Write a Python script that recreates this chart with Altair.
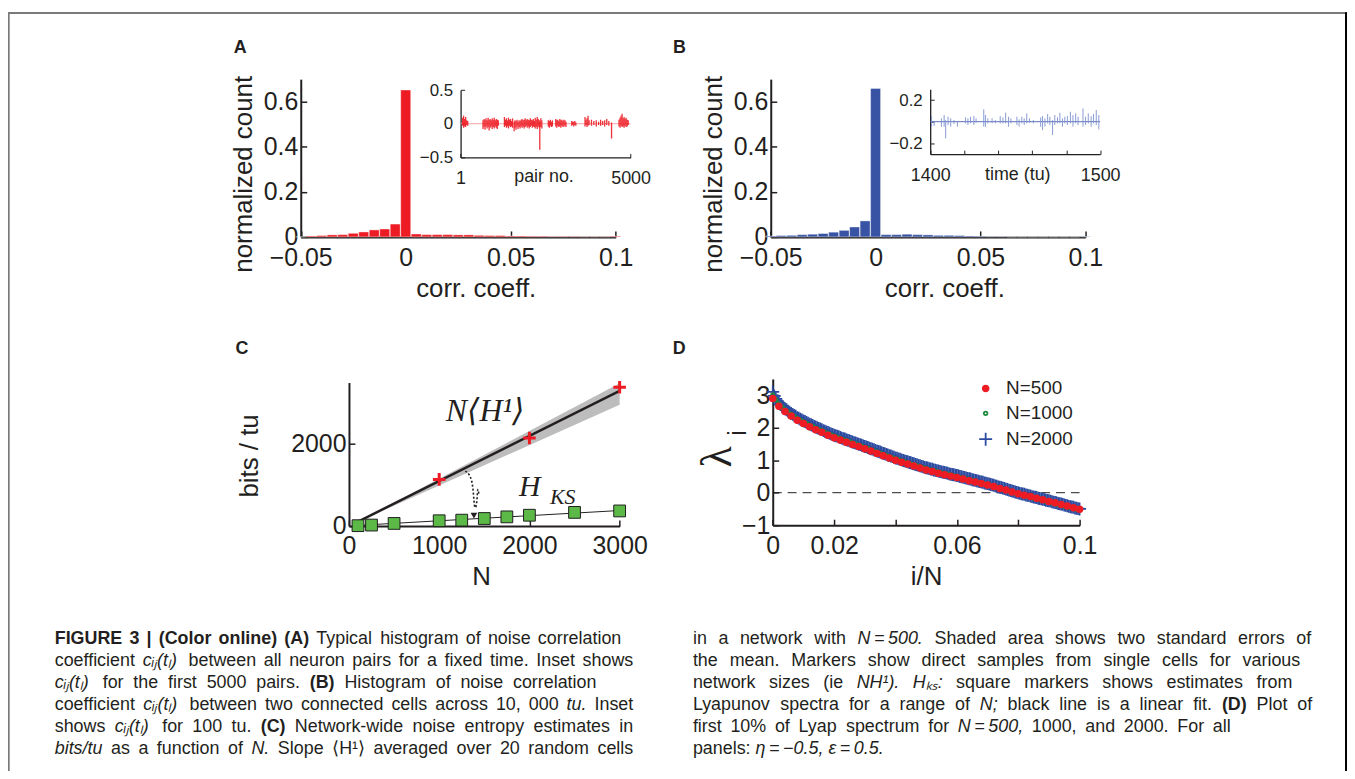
import altair as alt
import pandas as pd

# ---------------- data ----------------
bin_centers = [-0.05, -0.045, -0.04, -0.035, -0.03, -0.025, -0.02, -0.015, -0.01, -0.005,
               0.0, 0.005, 0.01, 0.015, 0.02, 0.025, 0.03, 0.035, 0.04, 0.045,
               0.05, 0.055, 0.06, 0.065, 0.07, 0.075, 0.08, 0.085, 0.09, 0.095, 0.1]
count_A = [0.0, 0.004, 0.006, 0.009, 0.010, 0.016, 0.022, 0.031, 0.035, 0.057,
           0.652, 0.013, 0.010, 0.010, 0.010, 0.009, 0.009, 0.007, 0.006, 0.006,
           0.004, 0.004, 0.003, 0.003, 0.002, 0.002, 0.002, 0.001, 0.001, 0.001, 0.003]
count_B = [0.004, 0.006, 0.007, 0.010, 0.012, 0.015, 0.021, 0.029, 0.044, 0.071,
           0.659, 0.010, 0.010, 0.012, 0.010, 0.009, 0.007, 0.007, 0.006, 0.004,
           0.003, 0.002, 0.002, 0.0, 0.0, 0.0, 0.0, 0.0, 0.0, 0.0, 0.002]

insetA_pair = [60, 90, 120, 150, 180, 210,
               660, 690, 720, 750, 780, 810, 840, 870, 900, 930, 960, 990, 1020, 1050, 1080, 1110,
               1290, 1320, 1350, 1380, 1410, 1440, 1470, 1500, 1530,
               1575, 1600, 1630, 1660, 1690, 1720, 1750, 1780,
               1810, 1840, 1870, 1900, 1930, 1960, 1990, 2020, 2050, 2080, 2110, 2140, 2170,
               2195, 2225, 2255, 2285, 2315, 2330, 2360, 2390,
               2580, 2610, 2640, 2670, 2700,
               2800, 2830, 2860, 2890, 2920, 2950, 2980, 3010, 3040, 3070, 3100,
               3270, 3300, 3330, 3360, 3390,
               3660, 3690, 3720, 3750, 3780,
               3850, 3920, 3990, 4060, 4120, 4180, 4240, 4300, 4360,
               4440,
               4660, 4690, 4720, 4750, 4780, 4810, 4840, 4870, 4900, 4930]
insetA_lo = [-0.03, -0.06, -0.04, -0.05, -0.02, -0.03,
             -0.08, -0.05, -0.09, -0.04, -0.07, -0.05, -0.10, -0.06, -0.04, -0.08, -0.05, -0.07, -0.04, -0.06, -0.08, -0.03,
             -0.05, -0.03, -0.06, -0.04, -0.07, -0.03, -0.05, -0.04, -0.06,
             -0.11, -0.06, -0.09, -0.04, -0.08, -0.05, -0.07, -0.04,
             -0.06, -0.04, -0.07, -0.05, -0.03, -0.06, -0.04, -0.07, -0.05, -0.03, -0.06, -0.04, -0.05,
             -0.07, -0.05, -0.08, -0.04, -0.06, -0.385, -0.05, -0.07,
             -0.04, -0.06, -0.03, -0.05, -0.04,
             -0.04, -0.06, -0.03, -0.05, -0.04, -0.06, -0.03, -0.05, -0.04, -0.03, -0.05,
             -0.03, -0.02, -0.04, -0.02, -0.03,
             -0.04, -0.02, -0.05, -0.03, -0.02,
             -0.03, -0.02, -0.04, -0.02, -0.03, -0.02, -0.04, -0.02, -0.03,
             -0.22,
             -0.04, -0.06, -0.03, -0.05, -0.04, -0.06, -0.03, -0.05, -0.04, -0.02]
insetA_hi = [0.09, 0.12, 0.07, 0.10, 0.05, 0.04,
             0.05, 0.07, 0.06, 0.08, 0.05, 0.09, 0.06, 0.07, 0.05, 0.08, 0.06, 0.09, 0.05, 0.07, 0.06, 0.05,
             0.10, 0.06, 0.08, 0.05, 0.09, 0.06, 0.07, 0.04, 0.08,
             0.03, 0.05, 0.04, 0.06, 0.03, 0.05, 0.04, 0.06,
             0.07, 0.05, 0.06, 0.08, 0.05, 0.07, 0.06, 0.05, 0.08, 0.06, 0.05, 0.07, 0.04,
             0.09, 0.06, 0.10, 0.07, 0.05, 0.03, 0.08, 0.05,
             0.05, 0.04, 0.06, 0.03, 0.05,
             0.07, 0.05, 0.06, 0.04, 0.07, 0.05, 0.06, 0.04, 0.06, 0.05, 0.03,
             0.04, 0.03, 0.03, 0.04, 0.02,
             0.10, 0.06, 0.08, 0.12, 0.05,
             0.06, 0.04, 0.05, 0.03, 0.06, 0.04, 0.05, 0.07, 0.04,
             0.02,
             0.06, 0.09, 0.12, 0.15, 0.08, 0.10, 0.07, 0.09, 0.06, 0.05]

insetB_time = [1400.8, 1402.3, 1406.6, 1408.2, 1409.1, 1410.5, 1412.1, 1414.0, 1416.0, 1420.8,
               1422.2, 1423.7, 1425.7, 1427.0, 1431.5, 1432.5, 1433.9, 1436.4, 1438.3, 1441.2,
               1442.8, 1444.4, 1446.1, 1447.5, 1451.0, 1452.3, 1453.9, 1455.3, 1456.8, 1458.4,
               1460.7, 1465.0, 1466.1, 1467.5, 1469.1, 1470.4, 1472.0, 1473.3, 1474.9, 1476.3,
               1477.8, 1479.2, 1480.7, 1482.5, 1484.0, 1485.6, 1487.0, 1489.9, 1491.4, 1493.0,
               1494.7, 1496.1, 1497.7, 1499.2]
insetB_hi = [0.052, 0.005, 0.031, 0.062, 0.015, 0.046, 0.031, 0.015, 0.005, 0.040,
             0.031, 0.046, 0.052, 0.031, 0.114, 0.062, 0.031, 0.031, 0.015, 0.052,
             0.040, 0.083, 0.046, 0.031, 0.046, 0.022, 0.046, 0.031, 0.077, 0.031,
             0.015, 0.040, 0.052, 0.031, 0.071, 0.046, 0.015, 0.062, 0.040, 0.083,
             0.031, 0.046, 0.052, 0.092, 0.062, 0.077, 0.046, 0.123, 0.046, 0.077,
             0.052, 0.071, 0.108, 0.062]
insetB_lo = [-0.046, -0.040, -0.046, -0.046, -0.154, -0.031, -0.046, -0.022, -0.046, -0.015,
             -0.031, -0.015, -0.031, -0.010, -0.046, -0.046, -0.015, -0.015, -0.015, -0.015,
             -0.015, -0.015, -0.046, -0.015, -0.031, -0.046, -0.015, -0.031, -0.015, -0.010,
             -0.015, -0.046, -0.077, -0.046, -0.015, -0.031, -0.123, -0.031, -0.015, -0.015,
             -0.046, -0.015, -0.031, -0.015, -0.046, -0.015, -0.031, -0.046, -0.031, -0.015,
             -0.046, -0.015, -0.031, -0.071]

C_marker_N = [1000, 2000, 3000]
C_marker_NH1 = [1135, 2148, 3387]
C_line_N = [80, 3000]
C_line_NH1 = [82, 3296]
C_band_N = [80, 3000]
C_band_lo = [80, 2960]
C_band_hi = [84, 3480]
C_ks_N = [100, 250, 500, 1000, 1250, 1500, 1750, 2000, 2500, 3000]
C_ks = [5, 20, 60, 125, 140, 180, 220, 260, 330, 365]
C_ksfit_N = [100, 3000]
C_ksfit = [12, 375]
C_arrow_N = [1290, 1375, 1425, 1440, 1420, 1388]
C_arrow_v = [1340, 1185, 990, 770, 530, 320]
C_arrowhead_N = [1385]
C_arrowhead_v = [250]

D_lam500 = [2.90, 2.66, 2.50, 2.36, 2.23, 2.13, 2.03, 1.94, 1.86, 1.77,
            1.69, 1.62, 1.55, 1.48, 1.42, 1.35, 1.28, 1.21, 1.14, 1.07,
            1.00, 0.94, 0.88, 0.82, 0.76, 0.70, 0.65, 0.60, 0.55, 0.51,
            0.47, 0.42, 0.37, 0.33, 0.28, 0.24, 0.19, 0.13, 0.08, 0.02,
            -0.03, -0.08, -0.12, -0.17, -0.22, -0.27, -0.31, -0.36, -0.41, -0.46,
            -0.51]
D_lam1000 = [3.00, 2.86, 2.73, 2.63, 2.55, 2.48, 2.41, 2.35, 2.28, 2.23,
             2.18, 2.13, 2.08, 2.04, 1.99, 1.95, 1.91, 1.86, 1.82, 1.78,
             1.74, 1.71, 1.67, 1.63, 1.60, 1.57, 1.53, 1.50, 1.46, 1.43,
             1.39, 1.36, 1.32, 1.29, 1.25, 1.22, 1.18, 1.15, 1.11, 1.08,
             1.04, 1.01, 0.98, 0.95, 0.92, 0.89, 0.86, 0.83, 0.80, 0.77,
             0.74, 0.71, 0.69, 0.66, 0.64, 0.61, 0.59, 0.57, 0.54, 0.52,
             0.50, 0.47, 0.45, 0.42, 0.40, 0.37, 0.35, 0.32, 0.30, 0.27,
             0.25, 0.22, 0.20, 0.17, 0.14, 0.11, 0.08, 0.05, 0.02, -0.01,
             -0.03, -0.06, -0.08, -0.11, -0.13, -0.16, -0.18, -0.21, -0.23, -0.26,
             -0.28, -0.31, -0.33, -0.36, -0.38, -0.41, -0.43, -0.46, -0.48, -0.51,
             -0.53]
D_lam2000 = [3.10, 2.98, 2.89, 2.82, 2.76, 2.71, 2.66, 2.62, 2.58, 2.55,
             2.51, 2.48, 2.44, 2.41, 2.38, 2.35, 2.31, 2.29, 2.26, 2.24,
             2.21, 2.19, 2.16, 2.14, 2.11, 2.09, 2.07, 2.04, 2.02, 2.00,
             1.98, 1.96, 1.94, 1.91, 1.89, 1.87, 1.85, 1.83, 1.81, 1.79,
             1.77, 1.75, 1.74, 1.72, 1.70, 1.68, 1.66, 1.65, 1.63, 1.61,
             1.60, 1.58, 1.56, 1.54, 1.53, 1.51, 1.49, 1.48, 1.46, 1.44,
             1.42, 1.41, 1.39, 1.37, 1.35, 1.34, 1.32, 1.30, 1.28, 1.27,
             1.25, 1.23, 1.21, 1.20, 1.18, 1.16, 1.14, 1.13, 1.11, 1.09,
             1.07, 1.06, 1.04, 1.03, 1.01, 0.99, 0.98, 0.96, 0.95, 0.93,
             0.92, 0.90, 0.89, 0.87, 0.86, 0.84, 0.83, 0.81, 0.80, 0.78,
             0.77, 0.76, 0.74, 0.73, 0.72, 0.70, 0.69, 0.68, 0.67, 0.65,
             0.64, 0.63, 0.62, 0.61, 0.60, 0.58, 0.57, 0.56, 0.55, 0.54,
             0.53, 0.52, 0.50, 0.49, 0.48, 0.47, 0.45, 0.44, 0.43, 0.42,
             0.40, 0.39, 0.38, 0.37, 0.35, 0.34, 0.33, 0.32, 0.30, 0.29,
             0.28, 0.27, 0.25, 0.24, 0.23, 0.21, 0.20, 0.18, 0.17, 0.16,
             0.14, 0.13, 0.11, 0.10, 0.08, 0.07, 0.05, 0.04, 0.02, 0.01,
             0.00, -0.02, -0.03, -0.04, -0.05, -0.07, -0.08, -0.09, -0.10, -0.12,
             -0.13, -0.14, -0.15, -0.17, -0.18, -0.19, -0.20, -0.21, -0.23, -0.24,
             -0.25, -0.26, -0.28, -0.29, -0.30, -0.31, -0.33, -0.34, -0.35, -0.36,
             -0.38, -0.39, -0.40, -0.42, -0.43, -0.44, -0.45, -0.47, -0.48, -0.49,
             -0.50]
D_series = ["N=500", "N=1000", "N=2000"]

# caption text: "**" = bold word, "_" = italic word
caption_left = [
    "**FIGURE **3 **| **(Color **online) **(A) Typical histogram of noise correlation",
    "coefficient _cᵢⱼ(tₗ) between all neuron pairs for a fixed time. Inset shows",
    "_cᵢⱼ(tₗ) for the first 5000 pairs. **(B) Histogram of noise correlation",
    "coefficient _cᵢⱼ(tₗ) between two connected cells across 10, 000 _tu. Inset",
    "shows _cᵢⱼ(tₗ) for 100 tu. **(C) Network-wide noise entropy estimates in",
    "_bits/tu as a function of _N. Slope ⟨H¹⟩ averaged over 20 random cells",
]
caption_right = [
    "in a network with _N\u2009=\u2009500. Shaded area shows two standard errors of",
    "the mean. Markers show direct samples from single cells for various",
    "network sizes (ie _NH¹). _Hₖₛ: square markers shows estimates from",
    "Lyapunov spectra for a range of _N; black line is a linear fit. **(D) Plot of",
    "first 10% of Lyap spectrum for _N\u2009=\u2009500, 1000, and 2000. For all",
    "panels: _η\u2009=\u2009−0.5, _ε\u2009=\u20090.5.",
]

# ---------------- layout / style ----------------
W, H = 1347, 763
OX, OY = 8, 8
INK = "#231f20"
SANS = "Liberation Sans"
SERIF = "Liberation Serif, DejaVu Serif, serif"
RED = "#ed1c24"
BLUE = "#3953a4"
CAP_SIZE = 18
cap_left_x, cap_right_x = 55, 697
cap_left_end = [625, 637, 600, 637, 637, 637]
cap_right_end = [1319, 1308, 1300, 1320, 1238, None]
cap_y0, cap_dy = 641, 22


def xs(d0, d1, p0, p1):
    return alt.Scale(domain=[d0, d1], range=[p0 - OX, p1 - OX], nice=False, zero=False)


def ys(d0, d1, p0, p1):
    return alt.Scale(domain=[d0, d1], range=[p0 - OY, p1 - OY], nice=False, zero=False)


XA = xs(-0.05, 0.1, 302.5, 619.3); YA = ys(0, 0.7, 236, 77.3)
XB = xs(-0.05, 0.1, 775.3, 1091.7); YB = ys(0, 0.7, 236, 77.3)
XIA = xs(1, 5000, 463.3, 634.3); YIA = ys(-0.5, 0.5, 156, 88.3)
XIB = xs(1400, 1500, 935.7, 1106.7); YIB = ys(-0.3, 0.3, 152.7, 87.5)
XC = xs(0, 3000, 351, 623.3); YC = ys(0, 3500, 526.7, 382.5)
XD = xs(0, 0.1, 777.3, 1086); YD = ys(-1, 3.5, 526, 378.9)
PX = xs(0, 1355, 0, 1355); PY = ys(0, 779, 0, 779)


def axis_b(Y, values, size=25, pad=8, title=None, tx=0, ty=0, tsize=26, dw=2, **kw):
    d = dict(orient="bottom", offset=(Y - OY) - H, values=values, format="~r",
             labelFont=SANS, labelFontSize=size, labelColor=INK, labelPadding=pad,
             labelFlush=False, labelOverlap=False, grid=False, ticks=False, tickSize=0,
             domainColor=INK, domainWidth=dw)
    if title:
        d.update(title=title, titleX=tx - OX, titleY=ty - Y, titleFont=SANS, titleFontSize=tsize,
                 titleFontWeight="normal", titleColor=INK, titleAlign="center",
                 titleBaseline="middle", titleAngle=0)
    else:
        d["title"] = None
    d.update(kw)
    return alt.Axis(**d)


def axis_l(X, values, size=25, pad=3, title=None, tx=0, ty=0, tsize=26, dw=2, tfont=SANS, **kw):
    d = dict(orient="left", offset=-(X - OX), values=values, format="~r",
             labelFont=SANS, labelFontSize=size, labelColor=INK, labelPadding=pad,
             labelFlush=False, labelOverlap=False, grid=False, ticks=False, tickSize=0,
             domainColor=INK, domainWidth=dw)
    if title:
        d.update(title=title, titleX=tx - X, titleY=ty - OY, titleFont=tfont, titleFontSize=tsize,
                 titleFontWeight="normal", titleColor=INK, titleAlign="center",
                 titleBaseline="middle", titleAngle=270)
    else:
        d["title"] = None
    d.update(kw)
    return alt.Axis(**d)


def ticks_top(Y, values, size=6, w=1.5):
    return alt.Axis(orient="top", offset=-(Y - OY), values=values, labels=False, domain=False,
                    ticks=True, tickSize=size, tickWidth=w, tickColor=INK, grid=False, title=None)


def ticks_right(X, values, size=6, w=1.5):
    return alt.Axis(orient="right", offset=(X - OX) - W, values=values, labels=False, domain=False,
                    ticks=True, tickSize=size, tickWidth=w, tickColor=INK, grid=False, title=None)


layers = []

# ---------------- Panel A and B histograms ----------------
for (counts, color, X, Y, x0, tx) in [(count_A, RED, XA, YA, 302.5, 478.5),
                                      (count_B, BLUE, XB, YB, 775.3, 950)]:
    df = pd.DataFrame({"c": bin_centers, "v": counts})
    bars = alt.Chart(df).transform_calculate(
        c0="datum.c - 0.00238", c1="datum.c + 0.00238", z="0"
    ).mark_bar(color=color, stroke="white", strokeWidth=0.4).encode(
        x=alt.X("c0:Q", scale=X, axis=axis_b(236, [-0.05, 0, 0.05, 0.1], pad=9,
                                             title="corr. coeff.", tx=tx, ty=287.7)),
        x2="c1:Q",
        y=alt.Y("v:Q", scale=Y, axis=axis_l(x0, [0, 0.2, 0.4, 0.6], title="normalized count",
                                               tx=x0 - 57.5, ty=172.5,
                                               labelExpr="datum.value === 0 ? '0\u00a0' : datum.label")),
        y2="z:Q",
    )
    tk = alt.Chart(df).mark_point(opacity=0).encode(
        x=alt.X("c:Q", scale=X, axis=ticks_top(236, [-0.05, 0, 0.05, 0.1])),
        y=alt.Y("v:Q", scale=Y, axis=ticks_right(x0, [0, 0.2, 0.4, 0.6])),
    )
    layers += [bars, tk]

# ---------------- Inset A ----------------
dfIA = pd.DataFrame({"p": insetA_pair, "lo": insetA_lo, "hi": insetA_hi})
zeroIA = alt.Chart(pd.DataFrame({"a": [1], "b": [5000], "z": [0]})).mark_rule(
    color="#f5a0a0", strokeWidth=1).encode(
    x=alt.X("a:Q", scale=XIA, axis=None), x2="b:Q", y=alt.Y("z:Q", scale=YIA, axis=None))
spikesIA = alt.Chart(dfIA).mark_rule(color=RED, strokeWidth=1.3, opacity=0.9).encode(
    x=alt.X("p:Q", scale=XIA, axis=axis_b(156, [1, 5000], size=18, pad=12, dw=1.3,
                                          title="pair no.", tx=546.7, ty=175, tsize=18)),
    y=alt.Y("lo:Q", scale=YIA, axis=axis_l(463.3, [-0.5, 0, 0.5], size=17, pad=8, dw=1.3)),
    y2="hi:Q",
)
tkIA = alt.Chart(dfIA).mark_point(opacity=0).encode(
    x=alt.X("p:Q", scale=XIA, axis=ticks_top(156, [1, 5000], size=4, w=1)),
    y=alt.Y("lo:Q", scale=YIA, axis=ticks_right(463.3, [-0.5, 0, 0.5], size=4, w=1)),
)
layers += [zeroIA, spikesIA, tkIA]

# ---------------- Inset B ----------------
dfIB = pd.DataFrame({"t": insetB_time, "lo": insetB_lo, "hi": insetB_hi})
zeroIB = alt.Chart(pd.DataFrame({"a": [1400], "b": [1500], "z": [0]})).mark_rule(
    color="#5a6fb8", strokeWidth=1).encode(
    x=alt.X("a:Q", scale=XIB, axis=None), x2="b:Q", y=alt.Y("z:Q", scale=YIB, axis=None))
spikesIB = alt.Chart(dfIB).mark_rule(color="#7d8fd0", strokeWidth=0.9).encode(
    x=alt.X("t:Q", scale=XIB, axis=axis_b(152.7, [1400, 1500], size=18, pad=13, dw=1.3,
                                          title="time (tu)", tx=1023.3, ty=173.3, tsize=18)),
    y=alt.Y("lo:Q", scale=YIB, axis=axis_l(935.7, [-0.2, 0.2], size=17, pad=8, dw=1.3)),
    y2="hi:Q",
)
tkIB = alt.Chart(dfIB).mark_point(opacity=0).encode(
    x=alt.X("t:Q", scale=XIB, axis=ticks_top(152.7, [1400, 1420, 1440, 1460, 1480, 1500], size=4, w=1)),
    y=alt.Y("lo:Q", scale=YIB, axis=ticks_right(935.7, [-0.2, 0, 0.2], size=4, w=1)),
)
layers += [zeroIB, spikesIB, tkIB]

# ---------------- Panel C ----------------
band = alt.Chart(pd.DataFrame({"n": C_band_N, "lo": C_band_lo, "hi": C_band_hi})).mark_area(
    color="#bdbdbd").encode(
    x=alt.X("n:Q", scale=XC, axis=None), y=alt.Y("lo:Q", scale=YC, axis=None), y2="hi:Q")
cline = alt.Chart(pd.DataFrame({"n": C_line_N, "v": C_line_NH1})).mark_line(
    color=INK, strokeWidth=2.5).encode(
    x=alt.X("n:Q", scale=XC, axis=axis_b(526.7, [0, 1000, 2000, 3000], title="N", tx=484, ty=578)),
    y=alt.Y("v:Q", scale=YC, axis=axis_l(351, [0, 2000], title="bits / tu", tx=251, ty=455.8)),
)
ctk = alt.Chart(pd.DataFrame({"n": C_line_N, "v": C_line_NH1})).mark_point(opacity=0).encode(
    x=alt.X("n:Q", scale=XC, axis=ticks_top(526.7, [0, 1000, 2000, 3000])),
    y=alt.Y("v:Q", scale=YC, axis=ticks_right(351, [0, 2000])),
)
PLUS = "M-1,0H1M0,-1V1"
cplus = alt.Chart(pd.DataFrame({"n": C_marker_N, "v": C_marker_NH1})).mark_point(
    shape=PLUS, size=160, color=RED, strokeWidth=3, filled=False, opacity=1).encode(
    x=alt.X("n:Q", scale=XC, axis=None), y=alt.Y("v:Q", scale=YC, axis=None))
ksfit = alt.Chart(pd.DataFrame({"n": C_ksfit_N, "v": C_ksfit})).mark_line(
    color=INK, strokeWidth=1).encode(
    x=alt.X("n:Q", scale=XC, axis=None), y=alt.Y("v:Q", scale=YC, axis=None))
ks = alt.Chart(pd.DataFrame({"n": C_ks_N, "v": C_ks})).mark_point(
    shape="square", size=140, filled=True, fill="#5cb947", stroke="#1e1e1e", strokeWidth=1, opacity=1).encode(
    x=alt.X("n:Q", scale=XC, axis=None), y=alt.Y("v:Q", scale=YC, axis=None))
arrow = alt.Chart(pd.DataFrame({"n": C_arrow_N, "v": C_arrow_v})).mark_line(
    color=INK, strokeWidth=1.6, strokeDash=[2, 2], interpolate="basis").encode(
    x=alt.X("n:Q", scale=XC, axis=None), y=alt.Y("v:Q", scale=YC, axis=None))
ahead = alt.Chart(pd.DataFrame({"n": C_arrowhead_N, "v": C_arrowhead_v})).mark_point(
    shape="triangle-down", size=45, filled=True, color=INK, opacity=1).encode(
    x=alt.X("n:Q", scale=XC, axis=None), y=alt.Y("v:Q", scale=YC, axis=None))
ctext = alt.Chart(pd.DataFrame({"n": [1509], "v": [2810], "t": ["N⟨H¹⟩"]})).mark_text(
    font=SERIF, fontStyle="italic", fontSize=32, color=INK).encode(
    x=alt.X("n:Q", scale=XC, axis=None), y=alt.Y("v:Q", scale=YC, axis=None), text="t:N")
htext = alt.Chart(pd.DataFrame({"n": [2005], "v": [940], "t": ["H"]})).mark_text(
    font=SERIF, fontStyle="italic", fontSize=30, color=INK).encode(
    x=alt.X("n:Q", scale=XC, axis=None), y=alt.Y("v:Q", scale=YC, axis=None), text="t:N")
kstext = alt.Chart(pd.DataFrame({"n": [2369], "v": [709], "t": ["KS"]})).mark_text(
    font=SERIF, fontStyle="italic", fontSize=22, color=INK).encode(
    x=alt.X("n:Q", scale=XC, axis=None), y=alt.Y("v:Q", scale=YC, axis=None), text="t:N")
layers += [band, cline, ctk, cplus, ksfit, ks, arrow, ahead, ctext, htext, kstext]

# ---------------- Panel D ----------------
rows = []
for lab, vals, n in [("N=2000", D_lam2000, 2000), ("N=1000", D_lam1000, 1000), ("N=500", D_lam500, 500)]:
    for i, v in enumerate(vals):
        rows.append({"x": i / n, "lam": v, "s": lab})
dfD = pd.DataFrame(rows)
zeroD = alt.Chart(pd.DataFrame({"a": [0], "b": [0.1], "z": [0]})).mark_rule(
    color=INK, strokeWidth=1, strokeDash=[9, 6]).encode(
    x=alt.X("a:Q", scale=XD, axis=None), x2="b:Q", y=alt.Y("z:Q", scale=YD, axis=None))
leg = alt.Legend(orient="none", legendX=982 - OX, legendY=379 - OY, title=None,
                 labelFont=SANS, labelFontSize=19, labelColor=INK, labelOffset=11,
                 rowPadding=5, symbolStrokeWidth=1.8, padding=0)
dpts = alt.Chart(dfD).mark_point(opacity=1, strokeWidth=1.7).encode(
    x=alt.X("x:Q", scale=XD, axis=axis_b(526, [0, 0.02, 0.06, 0.1], title="i/N", tx=931.6, ty=578)),
    y=alt.Y("lam:Q", scale=YD, axis=axis_l(777.3, [-1, 0, 1, 2, 3], title="λ", tx=721.7, ty=456.7,
                                          tsize=44, tfont=SERIF)),
    shape=alt.Shape("s:N", scale=alt.Scale(type="ordinal", domain=D_series, range=["circle", "circle", PLUS]), legend=leg),
    fill=alt.Fill("s:N", scale=alt.Scale(type="ordinal", domain=D_series, range=[RED, "transparent", "transparent"]), legend=leg),
    stroke=alt.Stroke("s:N", scale=alt.Scale(type="ordinal", domain=D_series, range=[RED, "#1d8a3c", "#2b4aa0"]), legend=leg),
    size=alt.Size("s:N", scale=alt.Scale(type="ordinal", domain=D_series, range=[34, 13, 169]), legend=leg),
)
dtk = alt.Chart(dfD).mark_point(opacity=0).encode(
    x=alt.X("x:Q", scale=XD, axis=ticks_top(526, [0, 0.02, 0.04, 0.06, 0.08, 0.1])),
    y=alt.Y("lam:Q", scale=YD, axis=ticks_right(777.3, [-1, 0, 1, 2, 3])),
)
isub = alt.Chart(pd.DataFrame({"x": [-0.0114], "y": [1.84], "t": ["i"]})).mark_text(
    font=SANS, fontSize=25, color=INK, angle=270).encode(
    x=alt.X("x:Q", scale=XD, axis=None), y=alt.Y("y:Q", scale=YD, axis=None), text="t:N")
layers += [zeroD, dpts, dtk, isub]

# ---------------- page annotations ----------------
letters = pd.DataFrame({"x": [241.5, 683.5, 243.3, 683.3], "y": [46, 46, 348.3, 349],
                        "t": ["A", "B", "C", "D"]})
lt = alt.Chart(letters).mark_text(font=SANS, fontSize=18, fontWeight="bold", color=INK).encode(
    x=alt.X("x:Q", scale=PX, axis=None), y=alt.Y("y:Q", scale=PY, axis=None), text="t:N")
layers.append(lt)

# caption: justified word by word using Arial/Liberation Sans advance widths (per 1000 em)
AR = {" ": 278, "(": 333, ")": 333, ",": 278, "-": 333, ".": 278, "/": 278, ":": 278, ";": 278,
      "=": 584, "%": 889, "|": 260,
      "A": 667, "B": 667, "C": 722, "D": 722, "E": 667, "F": 611, "G": 778, "H": 722, "I": 278,
      "J": 500, "K": 667, "L": 556, "M": 833, "N": 722, "O": 778, "P": 667, "R": 722, "S": 667,
      "T": 611, "U": 722, "V": 667, "W": 944,
      "a": 556, "b": 556, "c": 500, "d": 556, "e": 556, "f": 278, "g": 556, "h": 556, "i": 222,
      "j": 222, "k": 500, "l": 222, "m": 833, "n": 556, "o": 556, "p": 556, "q": 556, "r": 333,
      "s": 500, "t": 278, "u": 556, "v": 500, "w": 722, "x": 500, "y": 500, "z": 500,
      "ᵢ": 230, "ⱼ": 230, "ₗ": 230, "ₖ": 330, "ₛ": 330, "⟨": 390, "⟩": 390, "¹": 333,
      "η": 556, "ε": 450, "−": 584, "\u2009": 200}
for dgt in "0123456789":
    AR[dgt] = 556
ARB = dict(AR)
ARB.update({"A": 722, "B": 722, "R": 722, "(": 333, ")": 333, "|": 280, "o": 611, "l": 278,
            "r": 389, "n": 611, "i": 278})


def wwidth(word, bold):
    tab = ARB if bold else AR
    return sum(tab.get(ch, 556) for ch in word) * CAP_SIZE / 1000.0


cap_rows = []
for col_x, lines, ends in [(cap_left_x, caption_left, cap_left_end), (cap_right_x, caption_right, cap_right_end)]:
    for li, (line, end) in enumerate(zip(lines, ends)):
        words = []
        for w in line.split(" "):
            if w.startswith("**"):
                words.append((w[2:], "bold"))
            elif w.startswith("_"):
                words.append((w[1:], "italic"))
            else:
                words.append((w, "normal"))
        widths = [wwidth(w, s == "bold") for w, s in words]
        if end is None or len(words) < 2:
            gap = AR[" "] * CAP_SIZE / 1000.0
        else:
            gap = (end - col_x - sum(widths)) / (len(words) - 1)
        x = col_x
        for (w, s), wd in zip(words, widths):
            cap_rows.append({"x": x, "y": cap_y0 + cap_dy * li, "t": w, "s": s})
            x += wd + gap
cap = pd.DataFrame(cap_rows)
for sty in ["normal", "bold", "italic"]:
    layers.append(
        alt.Chart(cap[cap.s == sty]).mark_text(
            font=SANS, fontSize=CAP_SIZE, color=INK, align="left", baseline="middle",
            fontWeight=("bold" if sty == "bold" else "normal"),
            fontStyle=("italic" if sty == "italic" else "normal")).encode(
            x=alt.X("x:Q", scale=PX, axis=None), y=alt.Y("y:Q", scale=PY, axis=None), text="t:N"))

frame = pd.DataFrame({"x0": [8, 8.7], "x1": [1355, 8.7], "y0": [10.7, 10], "y1": [10.7, 779]})
layers.append(alt.Chart(frame).mark_rule(color="#7a7a7a", strokeWidth=2).encode(
    x=alt.X("x0:Q", scale=PX, axis=None), x2="x1:Q",
    y=alt.Y("y0:Q", scale=PY, axis=None), y2="y1:Q"))
frame_r = pd.DataFrame({"x0": [1354], "y0": [10], "y1": [779]})
layers.append(alt.Chart(frame_r).mark_rule(color="#000000", strokeWidth=2).encode(
    x=alt.X("x0:Q", scale=PX, axis=None),
    y=alt.Y("y0:Q", scale=PY, axis=None), y2="y1:Q"))

chart = alt.layer(*layers).resolve_scale(x="independent", y="independent").properties(
    width=W, height=H, padding=0, autosize=alt.AutoSizeParams(type="none")
).configure_view(strokeOpacity=0)

chart.save("out.html", embed_options={"renderer": "svg", "actions": False})
